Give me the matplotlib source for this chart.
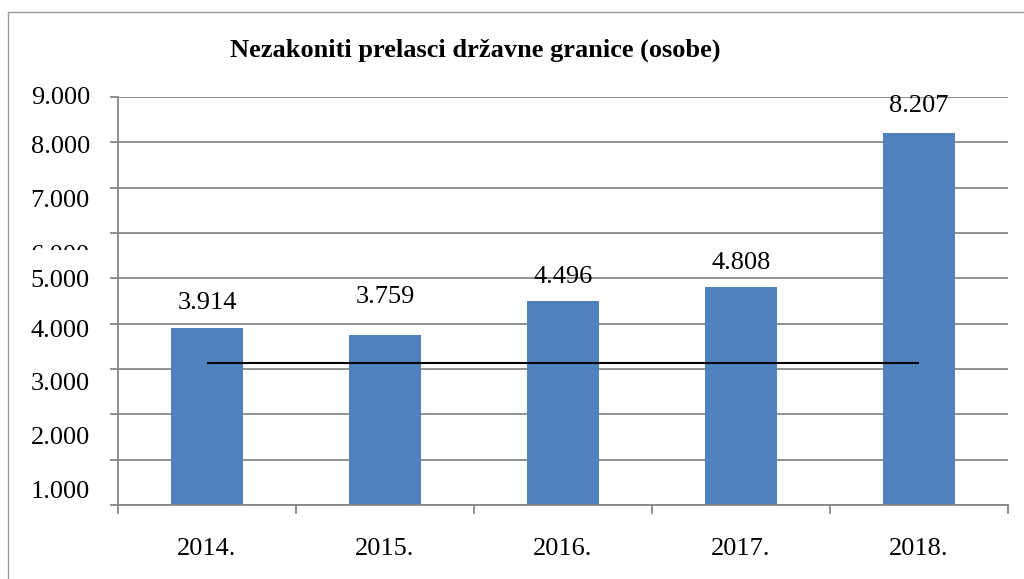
import matplotlib
matplotlib.use("Agg")
import matplotlib.pyplot as plt
import matplotlib.transforms as mtransforms
from matplotlib.patches import Rectangle

# ---- data ----
categories = ["2014.", "2015.", "2016.", "2017.", "2018."]
values = [3914, 3759, 4496, 4808, 8207]
line_values = [3130, 3130, 3130, 3130, 3130]
# data-label centres (data units) as they sit in the reference
label_y = [4460, 4590, 5030, 5330, 8800]
ytick_values = [0, 1000, 2000, 3000, 4000, 5000, 6000, 7000, 8000, 9000]
ytick_labels = ["1.000", "2.000", "3.000", "4.000", "5.000", "6.000", "7.000", "8.000", "9.000"]
ytick_label_pos = [290, 1480, 2670, 3840, 4940, 5490, 6710, 7890, 8980]
title = "Nezakoniti prelasci državne granice (osobe)"

W, H = 1024, 579
fig = plt.figure(figsize=(W / 100, H / 100), dpi=100)
fig.patch.set_facecolor("white")

left, right, top, bottom = 118, 1008, 97, 505
ax = fig.add_axes([left / W, 1 - bottom / H, (right - left) / W, (bottom - top) / H])

grid_col = "#878787"
bar_col = "#4f81bd"
font = "Liberation Serif"
fs = 19

x = list(range(len(categories)))
ax.bar(x, values, width=0.4, color=bar_col, zorder=2)
ax.plot(x, line_values, color="black", lw=1.5, zorder=3, solid_capstyle="butt")

ax.set_xlim(-0.5, len(categories) - 0.5)
ax.set_ylim(0, 9000)

# gridlines
ax.set_yticks(ytick_values)
ax.set_yticklabels([])
ax.yaxis.grid(True, color=grid_col, lw=1.3, zorder=0)
ax.set_axisbelow(True)
ax.tick_params(axis="y", length=6, width=1.3, color=grid_col, direction="out")

# x ticks: labels at centres, tick marks at boundaries
ax.set_xticks(x)
ax.set_xticklabels(categories, fontfamily=font, fontsize=fs)
ax.tick_params(axis="x", which="major", length=0, pad=24)
ax.set_xticks([i - 0.5 for i in range(len(categories) + 1)], minor=True)
ax.tick_params(axis="x", which="minor", length=6.5, width=1.3, color=grid_col, direction="out")

for s in ["top", "right"]:
    ax.spines[s].set_visible(False)
for s in ["left", "bottom"]:
    ax.spines[s].set_color(grid_col)
    ax.spines[s].set_linewidth(1.3)

# y tick labels placed where they appear in the reference
trans = mtransforms.blended_transform_factory(ax.transAxes, ax.transData)
for lab, pos in zip(ytick_labels, ytick_label_pos):
    t = ax.text(-28 / (right - left), pos, lab, transform=trans, ha="right", va="center",
                fontfamily=font, fontsize=fs, clip_on=False)
    if lab == "6.000":
        t.set_clip_on(True)
        t.set_clip_box(mtransforms.Bbox([[0, H - 250], [W, H]]))

# data labels
for xi, v, ly in zip(x, values, label_y):
    ax.text(xi, ly, f"{v:,}".replace(",", "."), ha="center", va="center",
            fontfamily=font, fontsize=fs, zorder=4)

fig.text(475 / W, 1 - 50 / H, title, ha="center", va="center",
         fontfamily=font, fontweight="bold", fontsize=19)

# outer border (open at right/bottom as in the reference)
fig.add_artist(Rectangle((8 / W, -0.1), 1.2, 1 - 12 / H + 0.1, transform=fig.transFigure,
                         fill=False, edgecolor="#999999", lw=1.0))

fig.savefig("out.png", dpi=100)
